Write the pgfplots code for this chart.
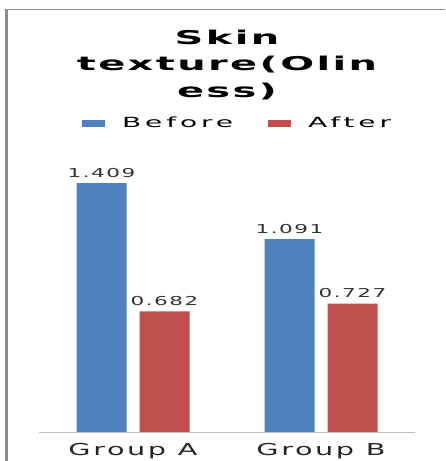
\documentclass[border=0pt]{standalone}
\usepackage{graphicx}
\usepackage{pgfplots}
\pgfplotsset{compat=1.18}
\usepackage{fontspec}
\setmainfont{DejaVu Sans}
\newfontfamily\tfont[LetterSpace=6]{DejaVu Sans Bold}
\newfontfamily\lfont[LetterSpace=9]{DejaVu Sans}
\newfontfamily\nfont[LetterSpace=7]{DejaVu Sans}
\newfontfamily\gfont[LetterSpace=14]{DejaVu Sans}
\definecolor{before}{HTML}{4F81BD}
\definecolor{after}{HTML}{C0504D}
\pgfplotsset{swatch legend/.style={legend image code/.code={\fill[##1] (0pt,-3.5pt) rectangle (23pt,3.5pt);}}}
\newcommand{\wide}[2]{\scalebox{#1}[1]{#2}}

\begin{document}
\begin{tikzpicture}[x=1pt,y=1pt]
\path[use as bounding box] (0,0) rectangle (445,461);
% frame of the chart area
\draw[black!45, line width=3pt] (6.5,0) -- (6.5,451);
\draw[black!45, line width=1pt] (5,451) -- (445,451);
\begin{axis}[
  at={(39pt,29pt)}, anchor=south west, scale only axis,
  width=376pt, height=282.7pt,
  xmin=-0.5, xmax=1.5, ymin=0, ymax=1.6,
  ybar=13pt, bar width=50pt,
  axis line style={draw=none},
  ytick=\empty, xtick={0,1},
  xticklabels={\wide{1.75}{Group A}, \wide{1.75}{Group B}},
  major tick length=0pt,
  xticklabel style={font=\lfont\fontsize{16.4}{19}\selectfont, text=black!85, yshift=-8pt},
  title={\wide{2.1}{Skin}\\\wide{2.1}{texture(Olin}\\\wide{2.1}{ess)}},
  title style={at={(axis description cs:0.5,1.277)}, anchor=center, align=center,
    font=\tfont\fontsize{19}{26.5}\selectfont},
  legend columns=2,
  legend style={at={(axis description cs:0.114,1.093)}, anchor=west, draw=none, fill=none,
    inner sep=0pt, font=\gfont\fontsize{14}{16}\selectfont,
    /tikz/every odd column/.append style={column sep=15pt},
    /tikz/every even column/.append style={column sep=33pt}},
  nodes near coords={\wide{1.75}{\pgfmathprintnumber[fixed,fixed zerofill,precision=3,assume math mode=true]{\pgfplotspointmeta}}},
  every node near coord/.append style={font=\nfont\fontsize{12.3}{14}\selectfont, text=black!80, yshift=2pt},
  clip=false,
]
\addplot[fill=before, draw=none, swatch legend]
  coordinates {(0,1.409) (1,1.091)};
\addlegendentry{\wide{2}{Before}}
\addplot[fill=after, draw=none, swatch legend]
  coordinates {(0,0.682) (1,0.727)};
\addlegendentry{\wide{2}{After}}
\draw[black!25] (rel axis cs:0,0) -- (rel axis cs:1,0);
\end{axis}
\end{tikzpicture}
\end{document}
